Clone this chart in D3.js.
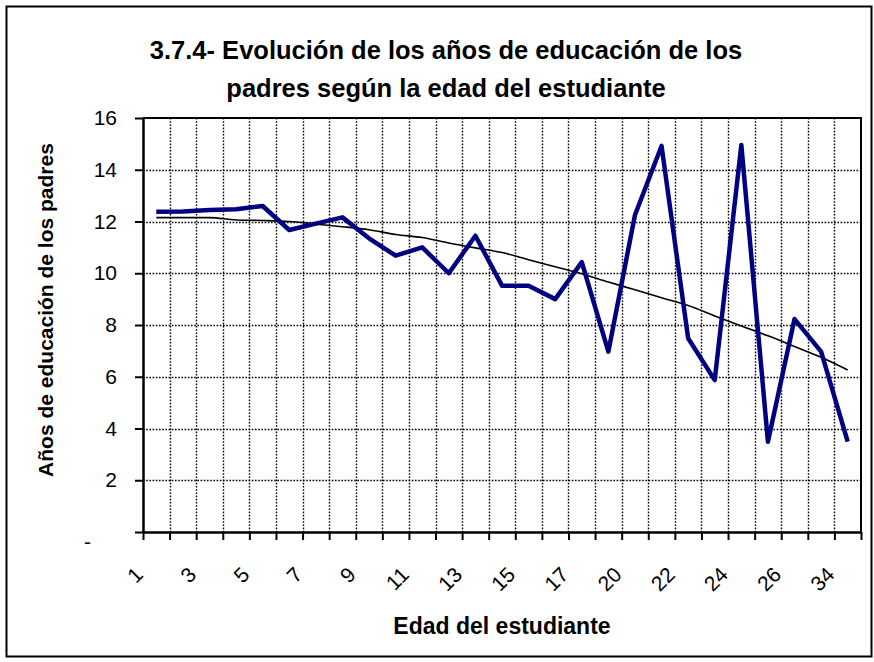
<!DOCTYPE html>
<html>
<head>
<meta charset="utf-8">
<script src="https://cdn.jsdelivr.net/npm/d3@7/dist/d3.min.js"></script>
<style>
  body { margin: 0; background: #fff; }
  text { font-family: "Liberation Sans", Arial, sans-serif; fill: #000; }
</style>
</head>
<body>
<div id="chart"></div>
<script>
// edad del estudiante (categorias del eje x)
var edades = ["1", "2", "3", "4", "5", "6", "7", "8", "9", "10", "11", "12", "13", "14",
  "15", "16", "17", "18", "20", "21", "22", "23", "24", "25", "26", "29", "34"];

// años de educacion de los padres
var educacion = [12.38, 12.39, 12.44, 12.47, 12.6, 11.67, 11.92, 12.16, 11.35, 10.68,
  11.0, 10.0, 11.45, 9.52, 9.52, 9.0, 10.43, 6.97, 12.25, 14.92, 7.49, 5.87, 14.96,
  3.49, 8.23, 6.97, 3.49];

// linea de tendencia
var tendencia = [12.15, 12.15, 12.15, 12.06, 12.04, 12.0, 11.9, 11.8, 11.68, 11.5,
  11.38, 11.17, 10.98, 10.8, 10.52, 10.25, 9.98, 9.66, 9.36, 9.05, 8.75, 8.35, 7.96,
  7.58, 7.17, 6.75, 6.26];

var yTicks = [0, 2, 4, 6, 8, 10, 12, 14, 16];

var titulo = ["3.7.4- Evolución de los años de educación de los",
  "padres según la edad del estudiante"];

var W = 874, H = 662;
var plot = { left: 143, right: 861, top: 118, bottom: 532 };

var svg = d3.select("#chart").append("svg")
  .attr("width", W)
  .attr("height", H);

svg.append("rect")
  .attr("x", 6.5).attr("y", 6.5)
  .attr("width", 865).attr("height", 650)
  .attr("fill", "#fff")
  .attr("stroke", "#000")
  .attr("stroke-width", 2);

var x = d3.scaleBand().domain(edades).range([plot.left, plot.right]).padding(0);
var xEdge = d3.scaleLinear().domain([0, edades.length]).range([plot.left, plot.right]);
var y = d3.scaleLinear().domain([0, 16]).range([plot.bottom, plot.top]);

// gridlines (dotted)
svg.append("g").selectAll("line")
  .data(yTicks.filter(function(d) { return d > 0 && d < 16; }))
  .enter().append("line")
  .attr("x1", plot.left).attr("x2", plot.right)
  .attr("y1", function(d) { return Math.round(y(d)) + 0.5; })
  .attr("y2", function(d) { return Math.round(y(d)) + 0.5; })
  .attr("stroke", "#000")
  .attr("stroke-width", 1.4)
  .attr("stroke-dasharray", "1.6,1.6");

svg.append("g").selectAll("line")
  .data(d3.range(1, edades.length))
  .enter().append("line")
  .attr("x1", function(d) { return Math.round(xEdge(d)) + 0.5; })
  .attr("x2", function(d) { return Math.round(xEdge(d)) + 0.5; })
  .attr("y1", plot.top).attr("y2", plot.bottom)
  .attr("stroke", "#000")
  .attr("stroke-width", 1.4)
  .attr("stroke-dasharray", "1.6,1.6");

var cx = function(d, i) { return x(edades[i]) + x.bandwidth() / 2; };

// tendencia
svg.append("path")
  .datum(tendencia)
  .attr("fill", "none")
  .attr("stroke", "#000")
  .attr("stroke-width", 1.6)
  .attr("d", d3.line().x(cx).y(function(d) { return y(d); }).curve(d3.curveMonotoneX));

// serie principal
svg.append("path")
  .datum(educacion)
  .attr("fill", "none")
  .attr("stroke", "#000080")
  .attr("stroke-width", 4.5)
  .attr("stroke-linejoin", "round")
  .attr("d", d3.line().x(cx).y(function(d) { return y(d); }));

// marco del area de trazado (arriba / derecha)
svg.append("path")
  .attr("d", "M" + plot.left + "," + plot.top + "H" + plot.right + "V" + plot.bottom)
  .attr("fill", "none")
  .attr("stroke", "#000")
  .attr("stroke-width", 2);

// y axis
var yAxis = svg.append("g")
  .attr("transform", "translate(" + plot.left + ",0)")
  .call(d3.axisLeft(y).tickValues(yTicks).tickSize(8).tickSizeOuter(0)
    .tickFormat(function(d) { return d === 0 ? "-" : d; }));
yAxis.select(".domain").attr("stroke-width", 2.5);
yAxis.selectAll(".tick line").attr("stroke-width", 2);
yAxis.selectAll(".tick text")
  .attr("font-size", 21)
  .attr("font-family", null)
  .attr("x", -26);
yAxis.selectAll(".tick text").filter(function(d) { return d === 0; })
  .attr("text-anchor", "start")
  .attr("x", -59)
  .attr("dy", "0.8em");

// x axis tick marks at band edges
var xTicks = svg.append("g")
  .attr("transform", "translate(0," + plot.bottom + ")")
  .call(d3.axisBottom(xEdge).tickValues(d3.range(0, edades.length + 1)).tickSize(8)
    .tickSizeOuter(0).tickFormat(""));
xTicks.select(".domain").attr("stroke-width", 2.5);
xTicks.selectAll(".tick line").attr("stroke-width", 2);

// x axis labels (every second category)
var xLabels = svg.append("g")
  .attr("transform", "translate(0," + plot.bottom + ")")
  .call(d3.axisBottom(x).tickValues(edades.filter(function(d, i) { return i % 2 === 0; }))
    .tickSize(0));
xLabels.select(".domain").remove();
xLabels.selectAll(".tick text")
  .attr("font-size", 21)
  .attr("font-family", null)
  .attr("text-anchor", "end")
  .attr("x", 0).attr("y", 0).attr("dy", null)
  .attr("transform", "translate(-12,44) rotate(-45)");

// axis titles
svg.append("text")
  .attr("x", (plot.left + plot.right) / 2)
  .attr("y", 634)
  .attr("text-anchor", "middle")
  .attr("font-size", 23)
  .attr("font-weight", "bold")
  .text("Edad del estudiante");

svg.append("text")
  .attr("transform", "translate(53,310) rotate(-90)")
  .attr("text-anchor", "middle")
  .attr("font-size", 21)
  .attr("font-weight", "bold")
  .text("Años de educación de los padres");

// title
svg.append("g").selectAll("text")
  .data(titulo)
  .enter().append("text")
  .attr("x", 446)
  .attr("y", function(d, i) { return 59 + i * 38; })
  .attr("text-anchor", "middle")
  .attr("font-size", 25.5)
  .attr("font-weight", "bold")
  .text(function(d) { return d; });
</script>
</body>
</html>
